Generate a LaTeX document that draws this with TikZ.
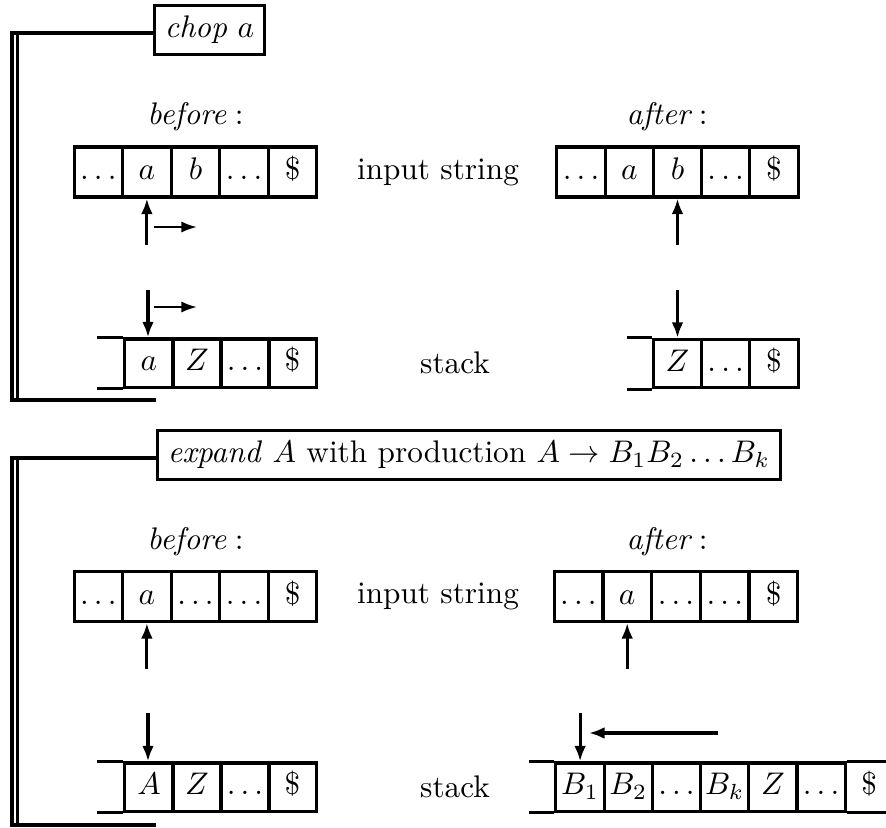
\documentclass[tikz,border=0pt]{standalone}
\usetikzlibrary{arrows.meta,calc}
\begin{document}
\begin{tikzpicture}[x=0.32pt,y=-0.32pt,
  incell/.style={draw,line width=1pt,minimum width=15.5pt,minimum height=16pt,inner sep=0pt,text height=6.9pt,text depth=1.9pt},
  stcell/.style={draw,line width=1pt,minimum width=15.5pt,minimum height=15.4pt,inner sep=0pt,text height=6.9pt,text depth=1.9pt},
  nocell/.style={minimum width=15.5pt,minimum height=15.4pt,inner sep=0pt,text height=6.9pt,text depth=1.9pt},
  titlebox/.style={draw,line width=1pt,inner sep=3.3pt},
  brk/.style={line width=1pt},
  edge/.style={line width=1pt},
  arr/.style={-{Latex[length=5pt,width=3.8pt]},line width=1pt},
  sarr/.style={-{Latex[length=5pt,width=3.6pt]},line width=0.75pt},
  lbl/.style={inner sep=0pt}]
\useasboundingbox (0,0) rectangle (886,827);
\coordinate (R) at (886,0);
% ================= top: chop a =================
\node[titlebox] (chop) at (209.5,30) {\textit{chop} $a$};
\coordinate (iv1) at (17.5,0);
\coordinate (tl1) at ($(chop.west)+(0,3)$);
\coordinate (bb1) at (156,400);
\draw[brk] (tl1) -| (12,400) -- (bb1);
\draw[brk] (tl1 -| iv1) -- (iv1 |- bb1);
\node[lbl] (bef1) at (195.5,117) {$\textit{before}:$};
\node[lbl] (aft1) at (667,117) {$\textit{after}:$};
% input before
\foreach \x/\t [count=\i] in {98.3/{$\ldots$},146.9/{$a$},195.5/{$b$},244.1/{$\ldots$},292.7/{\$}}
  \node[incell] (tbi\i) at (\x,172) {\t};
% stack before
\foreach \x/\t [count=\i] in {149/{$a$},197/{$Z$},245/{$\ldots$},292.5/{\$}}
  \node[stcell] (tbs\i) at (\x,363) {\t};
\draw[edge] (tbs1.north west) -- ++(-26,0);
\draw[edge] (tbs1.south west) -- ++(-26,0);
% input after
\foreach \x/\t [count=\i] in {581.1/{$\ldots$},629.3/{$a$},677.5/{$b$},725.7/{$\ldots$},773.9/{\$}}
  \node[incell] (tai\i) at (\x,172) {\t};
% stack after
\foreach \x/\t [count=\i] in {677.5/{$Z$},725.7/{$\ldots$},773.9/{\$}}
  \node[stcell] (tas\i) at (\x,363.5) {\t};
\draw[edge] (tas1.north west) -- ++(-25,0);
\draw[edge] (tas1.south west) -- ++(-25,0);
\node[lbl] (is1) at (438,172) {input string};
\node[lbl] (st1) at (455,363) {stack};
% arrows top
\draw[arr] ($(tbi2.south)+(0,46)$) -- (tbi2.south);
\coordinate (h1a) at (154,227); \coordinate (h1b) at (197,227);
\draw[sarr] (h1a) -- (h1b);
\draw[arr] ($(tbs1.north)+(-1,-47)$) -- ($(tbs1.north)+(-1,0)$);
\coordinate (h2a) at (154,307); \coordinate (h2b) at (197,307);
\draw[sarr] (h2a) -- (h2b);
\draw[arr] ($(tai3.south)+(0,46)$) -- (tai3.south);
\draw[arr] ($(tas1.north)+(0,-48)$) -- (tas1.north);
% ================= bottom: expand =================
\node[titlebox] (exp) at (469,455) {\textit{expand} $A$ with production $A\rightarrow B_1B_2\ldots B_k$};
\coordinate (iv2) at (17.5,0);
\coordinate (tl2) at ($(exp.west)+(0,3)$);
\coordinate (bb2) at (156,825);
\draw[brk] (tl2) -| (12,825) -- (bb2);
\draw[brk] (tl2 -| iv2) -- (iv2 |- bb2);
\node[lbl] (bef2) at (195.5,542) {$\textit{before}:$};
\node[lbl] (aft2) at (667,542) {$\textit{after}:$};
% input before
\foreach \x/\t [count=\i] in {98.3/{$\ldots$},146.9/{$a$},195.5/{$\ldots$},244.1/{$\ldots$},292.7/{\$}}
  \node[incell] (bbi\i) at (\x,596.5) {\t};
% stack before
\foreach \x/\t [count=\i] in {149/{$A$},197/{$Z$},245/{$\ldots$},292.5/{\$}}
  \node[stcell] (bbs\i) at (\x,787) {\t};
\draw[edge] (bbs1.north west) -- ++(-26,0);
\draw[edge] (bbs1.south west) -- ++(-26,0);
% input after
\foreach \x/\t [count=\i] in {578.4/{$\ldots$},627.2/{$a$},676/{$\ldots$},724.8/{$\ldots$},773.6/{\$}}
  \node[incell] (bai\i) at (\x,596.5) {\t};
% stack after
\foreach \x/\t [count=\i] in {580.1/{$B_1$},628.3/{$B_2$},676.5/{$\ldots$},724.7/{$B_k$},772.9/{$Z$},821.1/{$\ldots$}}
  \node[stcell] (bas\i) at (\x,787) {\t};
\node[nocell] (bas7) at (869.3,787) {\$};
\draw[edge] (bas1.north west) -- ++(-25,0);
\draw[edge] (bas1.south west) -- ++(-25,0);
\draw[edge] (bas6.north east) -- (bas6.north east -| R);
\draw[edge] (bas6.south east) -- (bas6.south east -| R);
\node[lbl] (is2) at (438,596.5) {input string};
\node[lbl] (st2) at (455,787) {stack};
% arrows bottom
\draw[arr] ($(bbi2.south)+(0,46)$) -- (bbi2.south);
\draw[arr] ($(bbs1.north)+(-1,-48)$) -- ($(bbs1.north)+(-1,0)$);
\draw[arr] ($(bai2.south)+(0,46)$) -- (bai2.south);
\draw[arr] ($(bas1.north)+(0,-48)$) -- (bas1.north);
\coordinate (h3a) at (718,733); \coordinate (h3b) at (589,733);
\draw[arr] (h3a) -- (h3b);
\end{tikzpicture}
\end{document}
